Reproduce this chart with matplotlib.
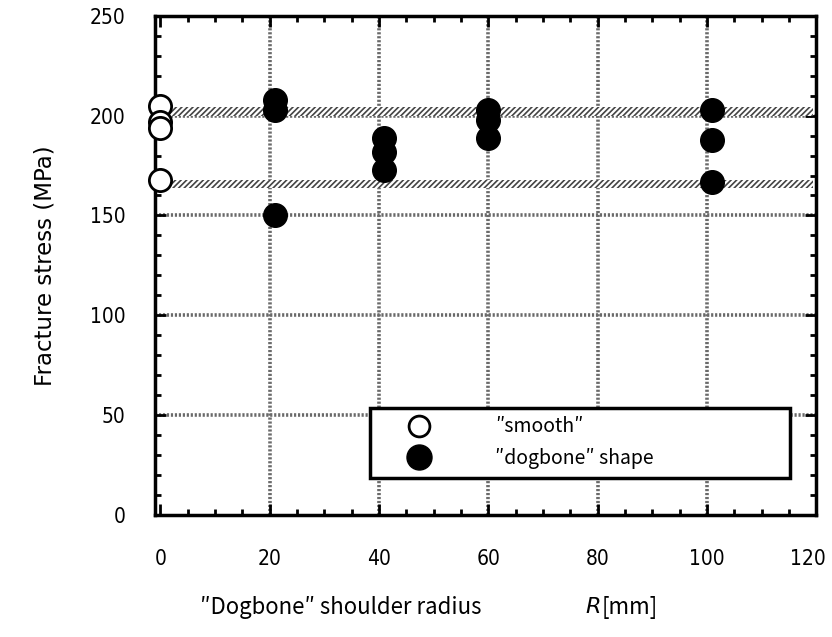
import numpy as np
import matplotlib.pyplot as plt
import matplotlib.transforms as mtransforms
from matplotlib.lines import Line2D
from matplotlib.ticker import MultipleLocator

# data
smooth_r = [0, 0, 0, 0]
smooth_stress = [205, 197, 194, 168]

dog_r = [21, 21, 21, 41, 41, 41, 60, 60, 60, 101, 101, 101]
dog_stress = [208, 203, 150, 189, 182, 173, 203, 198, 189, 203, 188, 167]

# hatched scatter bands (low, high)
band_lo = [200, 164]
band_hi = [204.5, 168]
band_x = [1.7, 119.4]

jp = ['Noto Sans CJK JP', 'DejaVu Sans']

fig = plt.figure(figsize=(8.32, 6.37), dpi=100)
ax = fig.add_axes([0.186, 0.192, 0.795, 0.783])

ax.set_xlim(-1, 120)
ax.set_ylim(0, 250)

# grid
for gx in [20, 40, 60, 80, 100]:
    ax.axvline(gx, color='#6a6a6a', lw=2.6, ls=(0, (0.6, 0.5)), zorder=1)
for gy in [50, 100, 150, 200]:
    ax.axhline(gy, color='#6a6a6a', lw=2.6, ls=(0, (0.6, 0.5)), zorder=1)

# bands
plt.rcParams['hatch.color'] = '#444444'
plt.rcParams['hatch.linewidth'] = 1.2
for lo, hi in zip(band_lo, band_hi):
    ax.fill_between(band_x, lo, hi, facecolor='white', edgecolor='#444444',
                    hatch='//////', lw=0, zorder=2)

ax.plot(dog_r, dog_stress, 'o', ms=17, color='black', zorder=4, clip_on=False)
ax.plot(smooth_r, smooth_stress, 'o', ms=16, mfc='white', mec='black',
        mew=2, zorder=5, clip_on=False)

# ticks
ax.xaxis.set_major_locator(MultipleLocator(20))
ax.xaxis.set_minor_locator(MultipleLocator(5))
ax.yaxis.set_major_locator(MultipleLocator(50))
ax.yaxis.set_minor_locator(MultipleLocator(10))
ax.tick_params(which='both', direction='in', top=True, right=True, width=2)
ax.tick_params(which='major', length=8)
ax.tick_params(which='minor', length=4)
ax.tick_params(axis='x', which='major', pad=25)
ax.tick_params(axis='y', which='major', pad=21)
fig.canvas.draw()
for lab in ax.get_xticklabels() + ax.get_yticklabels():
    lab.set_family('DejaVu Sans')
    lab.set_stretch('condensed')
    lab.set_fontsize(15)
# nudge the last x label so it stays inside the figure
last = [l for l in ax.get_xticklabels() if l.get_text() == '120']
for l in last:
    l.set_transform(l.get_transform() +
                    mtransforms.ScaledTranslation(-6 / 72, 0, fig.dpi_scale_trans))
for s in ax.spines.values():
    s.set_linewidth(2.5)

ax.set_ylabel('Fracture stress (MPa)', family='DejaVu Sans', fontsize=16.5,
              labelpad=24)

fig.text(0.41, 0.047, '″Dogbone″ shoulder radius', family=jp, fontsize=16,
         ha='center', va='center')
fig.text(0.713, 0.047, 'R', family=['DejaVu Sans'], style='italic',
         fontsize=16, ha='center', va='center')
fig.text(0.757, 0.047, '[mm]', family=jp, fontsize=16, ha='center', va='center')

handles = [
    Line2D([], [], ls='none', marker='o', ms=15, mfc='white', mec='black', mew=2),
    Line2D([], [], ls='none', marker='o', ms=18, color='black'),
]
leg = ax.legend(handles, ['″smooth″', '″dogbone″ shape'],
                loc='lower left', bbox_to_anchor=(0.325, 0.074, 0.635, 0.156),
                mode='expand', fancybox=False, framealpha=1, edgecolor='black',
                prop={'family': jp, 'size': 14}, handletextpad=1.8,
                borderpad=0.45, labelspacing=0.55, handlelength=4.2,
                borderaxespad=0)
leg.get_frame().set_linewidth(2.5)
leg.set_zorder(6)

fig.savefig('out.png', dpi=100)
